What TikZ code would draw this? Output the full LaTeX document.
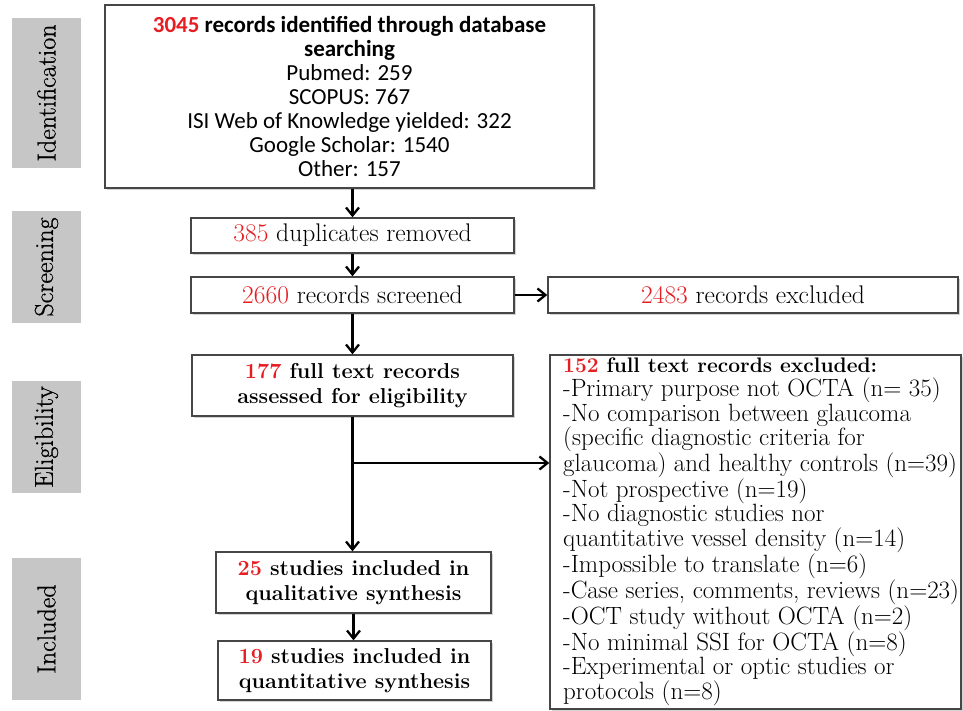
\documentclass[tikz,border=0pt]{standalone}
\usepackage{fontspec}
\newfontfamily\carlito{Carlito}
\newfontfamily\labfont{Latin Modern Roman}[FakeBold=0.7]
\usetikzlibrary{arrows.meta,shadows}
\definecolor{nred}{RGB}{230,30,35}
\definecolor{edge}{RGB}{70,70,70}
\newcommand\fsone{\fontsize{25.5}{26}\selectfont}
\newcommand\fsreg{\fontsize{25}{24.4}\selectfont}
\newcommand\fsbold{\fontsize{21.6}{24.5}\selectfont\bfseries}
\begin{document}
\begin{tikzpicture}[x=1pt,y=-1pt,
  box/.style={draw=edge, line width=1.4pt, fill=white, inner sep=0pt,
    drop shadow={shadow xshift=1.5pt, shadow yshift=-1.5pt, opacity=0.35, fill=gray}},
  lab/.style={fill=gray!45, inner sep=0pt, rotate=90, font=\labfont\fontsize{26}{26}\selectfont},
  arr/.style={-{Straight Barb[length=8pt,width=13pt]}, line width=2.3pt, black}]
\useasboundingbox (0,0) rectangle (963,710);

% stage labels
\node[lab, minimum width=150pt, minimum height=69pt] (l1) at (46.5,93) {Identification};
\node[lab, minimum width=112pt, minimum height=69pt] (l2) at (46.5,267) {Screening};
\node[lab, minimum width=112pt, minimum height=69pt] (l3) at (46.5,437) {Eligibility};
\node[lab, minimum width=142pt, minimum height=69pt] (l4) at (46.5,629) {Included};

% boxes
\node[box, minimum width=489pt, minimum height=183pt, align=center,
  font=\carlito\fontsize{23}{24}\selectfont] (top) at (349.5,96.5)
  {\textbf{\textcolor{nred}{3045} records identified through database}\\
   \textbf{searching}\\
   Pubmed: 259\\
   SCOPUS: 767\\
   ISI Web of Knowledge yielded: 322\\
   Google Scholar: 1540\\
   Other: 157};

\node[box, minimum width=323pt, minimum height=35pt, font=\fsone] (dup) at (352.5,235.5)
  {\textcolor{nred}{385} duplicates removed};
\node[box, minimum width=323pt, minimum height=36pt, font=\fsone] (scr) at (352.5,295)
  {\textcolor{nred}{2660} records screened};
\node[box, minimum width=410pt, minimum height=36pt, font=\fsone] (exc) at (753,295)
  {\textcolor{nred}{2483} records excluded};
\node[box, minimum width=321pt, minimum height=61pt, align=center, font=\fsbold] (full) at (352.5,385.5)
  {\textcolor{nred}{177} full text records\\assessed for eligibility};
\node[box, minimum width=275pt, minimum height=61pt, align=center, font=\fsbold] (qual) at (353.5,582.5)
  {\textcolor{nred}{25} studies included in\\qualitative synthesis};
\node[box, minimum width=273pt, minimum height=59pt, align=center, font=\fsbold] (quant) at (354.5,670.5)
  {\textcolor{nred}{19} studies included in\\quantitative synthesis};

\node[box, minimum width=411pt, minimum height=354pt] (excl) at (755.5,532) {};
\node[anchor=west, align=left, inner sep=0pt, font=\fsreg] (excltext) at (563,531.5)
  {{\fontsize{21}{24.4}\selectfont\bfseries\textcolor{nred}{152} full text records excluded:}\\
   -Primary purpose not OCTA (n= 35)\\
   -No comparison between glaucoma\\
   (specific diagnostic criteria for\\
   glaucoma) and healthy controls (n=39)\\
   -Not prospective (n=19)\\
   -No diagnostic studies nor\\
   quantitative vessel density (n=14)\\
   -Impossible to translate (n=6)\\
   -Case series, comments, reviews (n=23)\\
   -OCT study without OCTA (n=2)\\
   -No minimal SSI for OCTA (n=8)\\
   -Experimental or optic studies or\\
   protocols (n=8)};

% connectors
\draw[arr] (dup.north |- top.south) -- (dup.north);
\draw[arr] (dup) -- (scr);
\draw[arr] (scr) -- (full);
\draw[arr] (scr.east) -- (exc.west);
\draw[arr] (full.south) -- (full.south |- qual.north);
\coordinate (br) at (352.5,463);
\draw[arr] (br) -- (br -| excl.west);
\draw[arr] (qual.south) -- (qual.south |- quant.north);
\end{tikzpicture}
\end{document}
